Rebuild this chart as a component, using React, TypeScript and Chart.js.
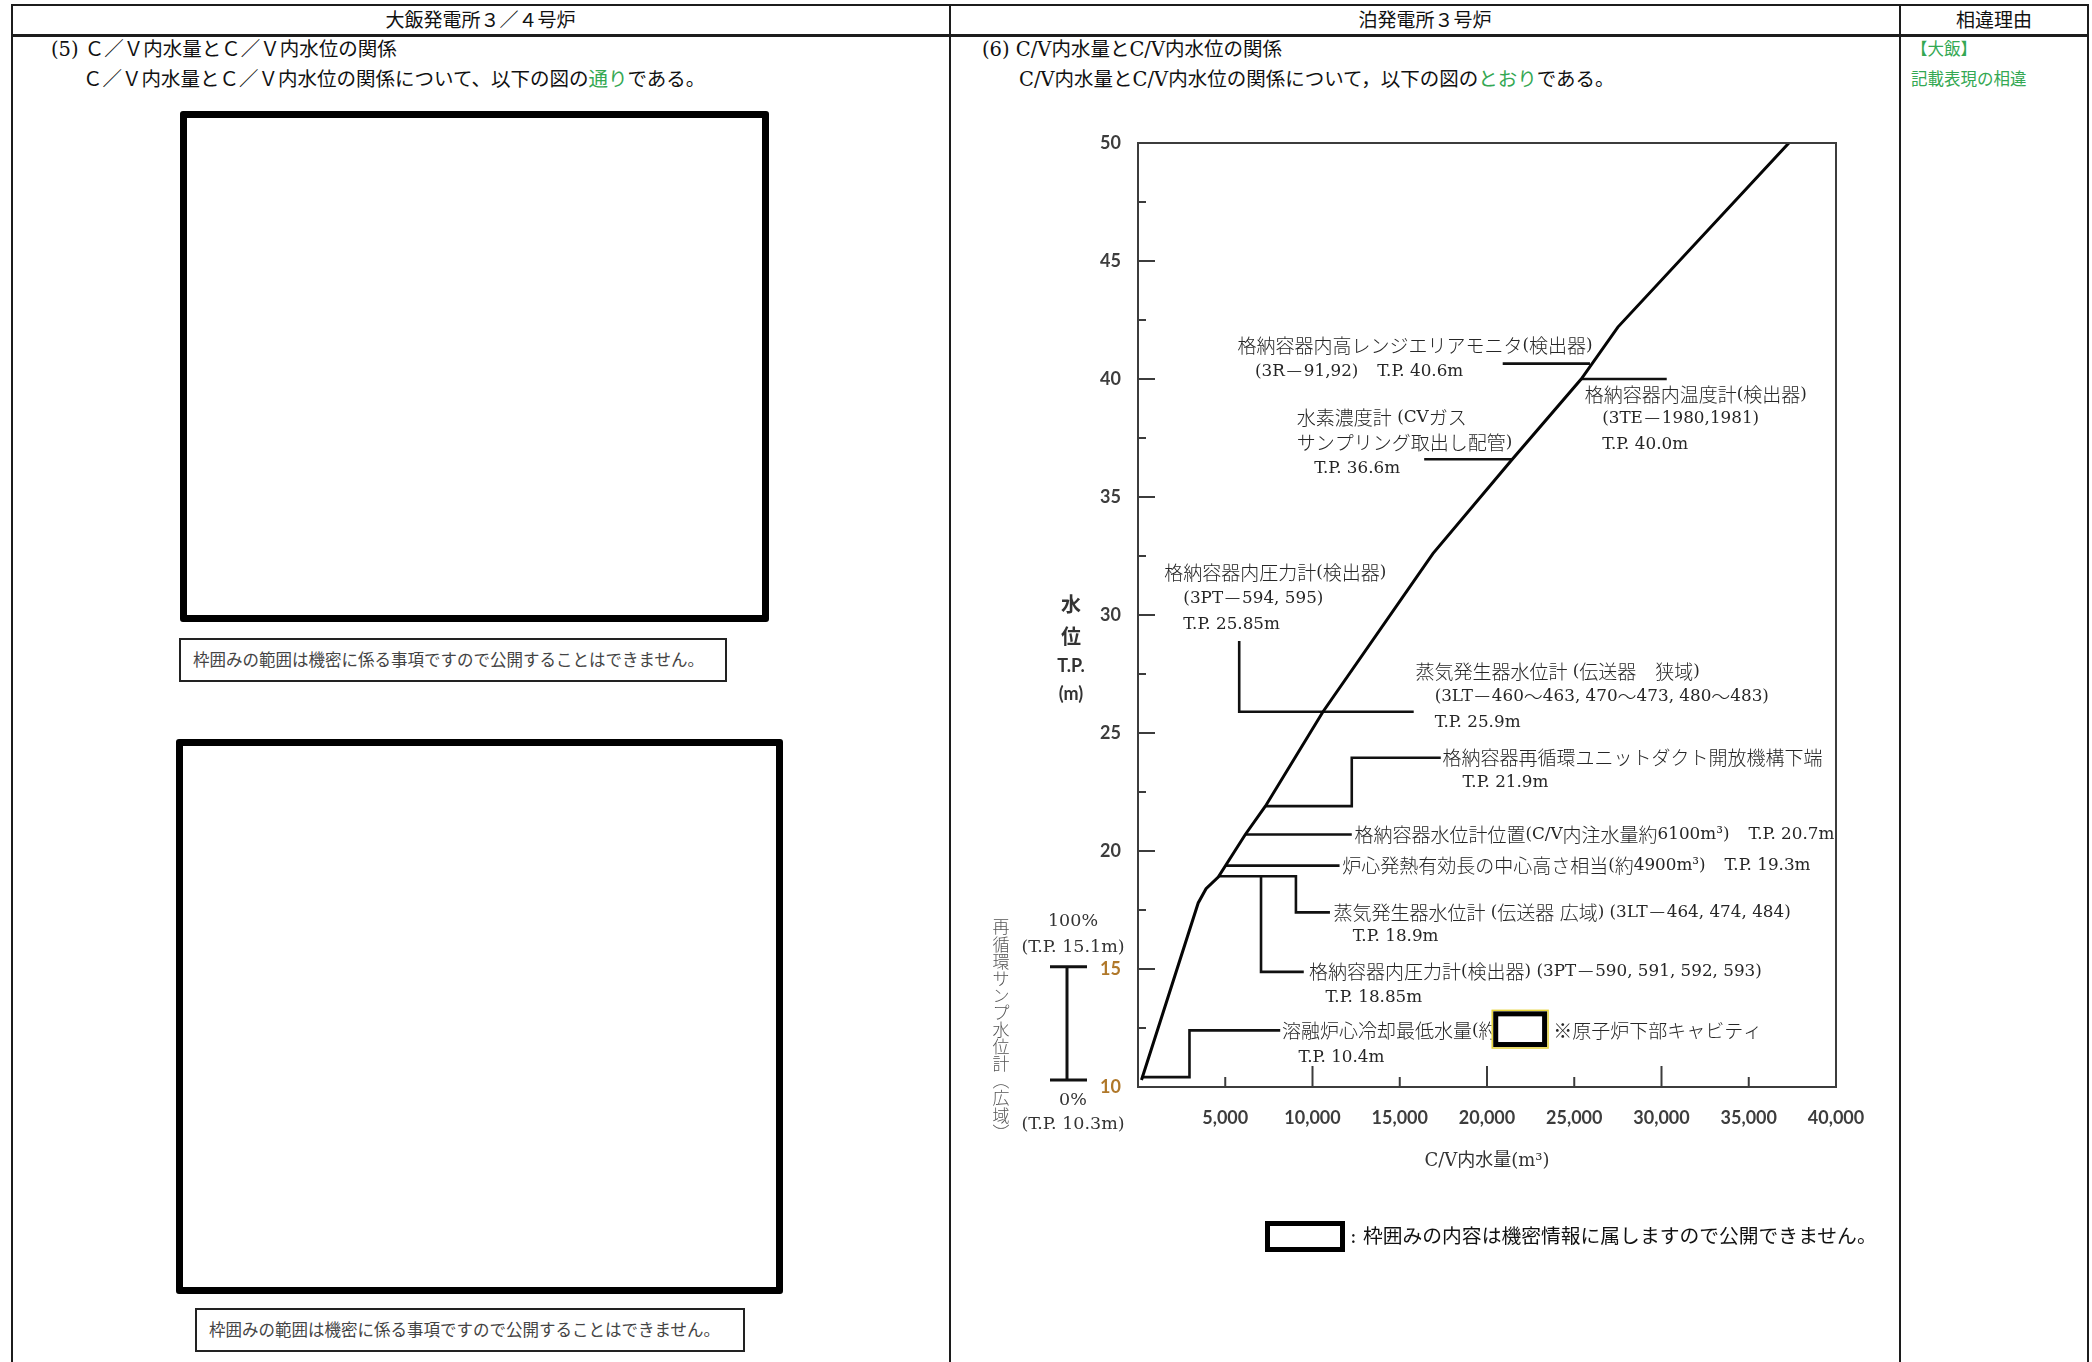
import React, { useEffect, useRef } from 'react';
import { Chart, registerables } from 'chart.js';

Chart.register(...registerables);

// ---------------- data ----------------
// C/V water volume (m3) vs C/V water level T.P. (m)
const curveVolume = [200, 3450, 3900, 4600, 6150, 7300, 10600, 16900, 21450, 25400, 27500, 37300];
const curveLevel = [10.3, 17.8, 18.4, 18.9, 20.7, 21.9, 25.9, 32.6, 36.6, 40.0, 42.2, 50];

const xTickValues = [0, 5000, 10000, 15000, 20000, 25000, 30000, 35000, 40000];
const yTickValues = [10, 15, 20, 25, 30, 35, 40, 45, 50];

// leader lines [volume, level]
const leaderHighRangeMonitor = [[20900, 40.65], [25900, 40.65]];
const leaderTempGauge = [[25400, 40.0], [30300, 40.0]];
const leaderHydrogen = [[16400, 36.6], [21450, 36.6]];
const leaderPressureSGNarrow = [[5800, 28.9], [5800, 25.9], [15800, 25.9]];
const leaderRecircDuct = [[7300, 21.9], [12250, 21.9], [12250, 23.95], [17350, 23.95]];
const leaderLevelGauge = [[6150, 20.7], [12250, 20.7]];
const leaderCoreCenter = [[5000, 19.38], [11550, 19.38]];
const leaderSGWide = [[4600, 18.93], [9050, 18.93], [9050, 17.4], [11000, 17.4]];
const leaderPressureLow = [[7050, 18.93], [7050, 14.88], [9500, 14.88]];
const leaderMinWater = [[200, 10.42], [2950, 10.42], [2950, 12.4], [8150, 12.4]];
const leaderLines = [
  leaderHighRangeMonitor, leaderTempGauge, leaderHydrogen, leaderPressureSGNarrow,
  leaderRecircDuct, leaderLevelGauge, leaderCoreCenter, leaderSGWide, leaderPressureLow, leaderMinWater,
];

// annotation texts, anchored at [volume, level] (left edge, vertical centre)
const noteTexts = [
  '格納容器内高レンジエリアモニタ(検出器)',
  '(3R－91,92)　T.P. 40.6m',
  '格納容器内温度計(検出器)',
  '(3TE－1980,1981)',
  'T.P. 40.0m',
  '水素濃度計 (CVガス',
  'サンプリング取出し配管)',
  'T.P. 36.6m',
  '格納容器内圧力計(検出器)',
  '(3PT－594, 595)',
  'T.P. 25.85m',
  '蒸気発生器水位計 (伝送器　狭域)',
  '(3LT－460～463, 470～473, 480～483)',
  'T.P. 25.9m',
  '格納容器再循環ユニットダクト開放機構下端',
  'T.P. 21.9m',
  '格納容器水位計位置(C/V内注水量約6100m³)　T.P. 20.7m',
  '炉心発熱有効長の中心高さ相当(約4900m³)　T.P. 19.3m',
  '蒸気発生器水位計 (伝送器 広域) (3LT－464, 474, 484)',
  'T.P. 18.9m',
  '格納容器内圧力計(検出器) (3PT－590, 591, 592, 593)',
  'T.P. 18.85m',
  '溶融炉心冷却最低水量(約',
  '※原子炉下部キャビティ',
  'T.P. 10.4m',
];
const noteVolumes = [5700, 6700, 25600, 26600, 26600, 9100, 9100, 10100, 1500, 2600, 2600, 15900, 17000, 17000, 17450, 18600, 12400, 11700, 11200, 12300, 9800, 10750, 8250, 23800, 9200];
const noteLevels = [41.4, 40.3, 39.35, 38.3, 37.2, 38.35, 37.3, 36.2, 31.8, 30.7, 29.6, 27.6, 26.55, 25.45, 23.95, 22.9, 20.7, 19.38, 17.4, 16.35, 14.88, 13.8, 12.4, 12.4, 11.25];

// concealed box inside the chart [volume, level]
const secretBoxVolume = [20500, 23300];
const secretBoxLevel = [13.1, 11.8];

// recirculation sump level gauge (wide range)
const sumpRangeLevel = [15.1, 10.3];
const sumpLabels = ['100%', '(T.P. 15.1m)', '0%', '(T.P. 10.3m)'];
const sumpLabelLevels = [17.03, 15.93, 9.41, 8.42];
const sumpTitle = '再循環サンプ水位計︵広域︶';

const yTitleParts = ['水', '位', 'T.P.', '(m)'];
const yTitleLevels = [30.45, 29.1, 27.85, 26.66];

// ---------------- styles ----------------
const SERIF = '"DejaVu Serif", "Noto Sans CJK JP", serif';
const SANS = 'Lato, "Noto Sans", "Noto Sans CJK JP", sans-serif';
const GREEN = '#34a853';
const CJK_FONT = '300 19px "Noto Sans CJK JP"';
const LATIN_FONT = '16.8px "DejaVu Serif", "Noto Sans CJK JP"';

const CJK_RE = /[\u2E80-\u9FFF\uF900-\uFAFF\uFE30-\uFE4F\uFF00-\uFFEF\u203B\u3000-\u303F]/;

function drawMixed(ctx: CanvasRenderingContext2D, text: string, x: number, y: number) {
  const runs: [string, boolean][] = [];
  let cur = '';
  let curCJK: boolean | null = null;
  for (const ch of Array.from(text)) {
    const c = CJK_RE.test(ch);
    if (curCJK === null || c === curCJK) {
      cur += ch;
      curCJK = c;
    } else {
      runs.push([cur, curCJK]);
      cur = ch;
      curCJK = c;
    }
  }
  if (cur) runs.push([cur, !!curCJK]);
  let cx = x;
  for (const [t, c] of runs) {
    ctx.font = c ? CJK_FONT : LATIN_FONT;
    ctx.fillText(t, cx, y);
    cx += ctx.measureText(t).width;
  }
}

const annotationPlugin = {
  id: 'cvAnnotations',
  afterDraw(chart: any) {
    const { ctx, chartArea: a } = chart;
    const xs = chart.scales.x;
    const ys = chart.scales.y;
    const px = (v: number) => xs.getPixelForValue(v);
    const py = (v: number) => ys.getPixelForValue(v);
    const seg = (x1: number, y1: number, x2: number, y2: number) => {
      ctx.beginPath();
      ctx.moveTo(x1, y1);
      ctx.lineTo(x2, y2);
      ctx.stroke();
    };
    ctx.save();
    // frame
    ctx.strokeStyle = '#3c3c3c';
    ctx.lineWidth = 2;
    ctx.strokeRect(a.left, a.top, a.right - a.left, a.bottom - a.top);
    // inner tick marks
    for (let v = 12.5; v < 50; v += 2.5) {
      const len = v % 5 === 0 ? 17 : 8;
      seg(a.left, py(v), a.left + len, py(v));
    }
    for (const v of xTickValues) {
      if (v === 0 || v === 40000) continue;
      const len = v % 10000 === 0 ? 21 : 10;
      seg(px(v), a.bottom, px(v), a.bottom - len);
    }
    // y title
    ctx.fillStyle = '#333';
    ctx.textAlign = 'center';
    ctx.textBaseline = 'middle';
    yTitleParts.forEach((t, i) => {
      ctx.font = i < 2 ? 'bold 20px "Noto Sans CJK JP"' : `bold 18px ${SANS}`;
      ctx.fillText(t, a.left - 67, py(yTitleLevels[i]));
    });
    // annotations
    ctx.textAlign = 'left';
    ctx.fillStyle = '#262626';
    noteTexts.forEach((t, i) => drawMixed(ctx, t, px(noteVolumes[i]), py(noteLevels[i])));
    // concealed box
    const bx1 = px(secretBoxVolume[0]);
    const bx2 = px(secretBoxVolume[1]);
    const by1 = py(secretBoxLevel[0]);
    const by2 = py(secretBoxLevel[1]);
    ctx.fillStyle = '#fff';
    ctx.fillRect(bx1 - 4, by1 - 4, bx2 - bx1 + 8, by2 - by1 + 8);
    ctx.strokeStyle = '#e6d43a';
    ctx.lineWidth = 1.5;
    ctx.strokeRect(bx1 - 3.5, by1 - 3.5, bx2 - bx1 + 7, by2 - by1 + 7);
    ctx.strokeStyle = '#000';
    ctx.lineWidth = 5;
    ctx.strokeRect(bx1, by1, bx2 - bx1, by2 - by1);
    // sump gauge
    const gx = a.left - 71;
    ctx.strokeStyle = '#111';
    ctx.lineWidth = 3;
    seg(gx, py(sumpRangeLevel[0]), gx, py(sumpRangeLevel[1]));
    seg(gx - 17, py(sumpRangeLevel[0]), gx + 20, py(sumpRangeLevel[0]));
    seg(gx - 17, py(sumpRangeLevel[1]), gx + 20, py(sumpRangeLevel[1]));
    ctx.fillStyle = '#333';
    ctx.textAlign = 'center';
    ctx.font = `17.5px ${SERIF}`;
    sumpLabels.forEach((t, i) => ctx.fillText(t, a.left - 65, py(sumpLabelLevels[i])));
    ctx.fillStyle = '#555';
    ctx.font = '300 17px "Noto Sans CJK JP"';
    const chars = Array.from(sumpTitle);
    const y0 = py(16.78);
    chars.forEach((c, i) => ctx.fillText(c, a.left - 137, y0 + i * 17.1));
    ctx.restore();
  },
};

const tickFont = { family: SANS, size: 18, weight: 'bold' as const };

function buildConfig(): any {
  const datasets: any[] = [
    {
      label: 'C/V内水量とC/V内水位',
      data: curveVolume.map((v, i) => ({ x: v, y: curveLevel[i] })),
      showLine: true,
      borderColor: '#050505',
      borderWidth: 3,
      pointRadius: 0,
      fill: false,
    },
    ...leaderLines.map((pts, i) => ({
      label: `leader${i}`,
      data: pts.map(([x, y]) => ({ x, y })),
      showLine: true,
      borderColor: '#111',
      borderWidth: 2.6,
      pointRadius: 0,
      fill: false,
    })),
  ];
  return {
    type: 'scatter',
    data: { datasets },
    plugins: [annotationPlugin],
    options: {
      responsive: false,
      animation: false,
      devicePixelRatio: 1,
      layout: { padding: { left: 0, top: 33, right: 59, bottom: 113 } },
      plugins: { legend: { display: false }, tooltip: { enabled: false }, title: { display: false } },
      scales: {
        x: {
          type: 'linear',
          min: 0,
          max: 40000,
          afterBuildTicks: (s: any) => { s.ticks = xTickValues.map((v) => ({ value: v })); },
          ticks: {
            font: tickFont,
            color: '#3d3d3d',
            padding: 20,
            maxRotation: 0,
            autoSkip: false,
            callback: (v: any) => (Number(v) === 0 ? '' : Number(v).toLocaleString('en-US')),
          },
          grid: { display: false, drawTicks: false, tickLength: 0 },
          border: { display: false },
          title: {
            display: true,
            text: 'C/V内水量(m³)',
            color: '#333',
            font: { family: SERIF, size: 18 },
            padding: { top: 0, bottom: 5 },
          },
          afterFit: (s: any) => { s.height = 90; },
        },
        y: {
          type: 'linear',
          min: 10,
          max: 50,
          afterBuildTicks: (s: any) => { s.ticks = yTickValues.map((v) => ({ value: v })); },
          ticks: {
            font: tickFont,
            color: (c: any) => (c.tick && c.tick.value <= 15 ? '#b0782a' : '#3d3d3d'),
            padding: 17,
            autoSkip: false,
          },
          grid: { display: false, drawTicks: false, tickLength: 0 },
          border: { display: false },
          afterFit: (s: any) => { s.width = 178; },
        },
      },
    },
  };
}

function T(props: { x: number; y: number; size: number; color?: string; children: any; w?: number; center?: boolean; family?: string }) {
  const h = Math.round(props.size * 1.4);
  return (
    <div
      style={{
        position: 'absolute',
        left: props.x,
        top: props.y - h / 2,
        width: props.w,
        height: h,
        lineHeight: `${h}px`,
        fontSize: props.size,
        color: props.color || '#111',
        fontFamily: props.family || SERIF,
        whiteSpace: 'nowrap',
        textAlign: props.center ? 'center' : 'left',
      }}
    >
      {props.children}
    </div>
  );
}

const line = (x: number, y: number, w: number, h: number, key: string) => (
  <div key={key} style={{ position: 'absolute', left: x, top: y, width: w, height: h, background: '#1c1c1c' }} />
);

export default function App() {
  const canvasRef = useRef<HTMLCanvasElement | null>(null);
  useEffect(() => {
    const canvas = canvasRef.current;
    if (!canvas) return;
    const chart = new Chart(canvas, buildConfig());
    return () => chart.destroy();
  }, []);

  return (
    <div style={{ position: 'absolute', left: 0, top: 0, width: 2092, height: 1362, overflow: 'hidden', background: '#fff' }}>
      {line(11, 4, 2078, 2, 'top')}
      {line(11, 34, 2078, 3, 'hdr')}
      {line(11, 4, 2, 1358, 'v0')}
      {line(949, 4, 2, 1358, 'v1')}
      {line(1899, 4, 2, 1358, 'v2')}
      {line(2087, 4, 2, 1358, 'v3')}

      <T x={11} y={20} w={939} size={19} center>大飯発電所３／４号炉</T>
      <T x={950} y={20} w={950} size={19} center>泊発電所３号炉</T>
      <T x={1900} y={20} w={188} size={19} center>相違理由</T>

      <T x={51} y={49} size={19.5}>(5) Ｃ／Ｖ内水量とＣ／Ｖ内水位の関係</T>
      <T x={83} y={79} size={19.5}>
        Ｃ／Ｖ内水量とＣ／Ｖ内水位の関係について、以下の図の<span style={{ color: GREEN }}>通り</span>である。
      </T>

      <T x={982} y={49} size={19.5}>(6) C/V内水量とC/V内水位の関係</T>
      <T x={1019} y={79} size={19.5}>
        C/V内水量とC/V内水位の関係について，以下の図の<span style={{ color: GREEN }}>とおり</span>である。
      </T>

      <T x={1911} y={49} size={16.5} color={GREEN}>【大飯】</T>
      <T x={1911} y={79} size={16.5} color={GREEN}>記載表現の相違</T>

      <div style={{ position: 'absolute', left: 180, top: 111, width: 589, height: 511, border: '7px solid #000', boxSizing: 'border-box', borderRadius: 3 }} />
      <div style={{ position: 'absolute', left: 179, top: 638, width: 548, height: 44, border: '2px solid #222', boxSizing: 'border-box' }} />
      <T x={193} y={660} size={16.5} color="#444">枠囲みの範囲は機密に係る事項ですので公開することはできません。</T>

      <div style={{ position: 'absolute', left: 176, top: 739, width: 607, height: 555, border: '7px solid #000', boxSizing: 'border-box', borderRadius: 3 }} />
      <div style={{ position: 'absolute', left: 195, top: 1308, width: 550, height: 44, border: '2px solid #222', boxSizing: 'border-box' }} />
      <T x={209} y={1330} size={16.5} color="#444">枠囲みの範囲は機密に係る事項ですので公開することはできません。</T>

      <canvas
        ref={canvasRef}
        width={935}
        height={1180}
        style={{ position: 'absolute', left: 960, top: 110, width: 935, height: 1180 }}
      />

      <div style={{ position: 'absolute', left: 1265, top: 1221, width: 80, height: 31, border: '5px solid #000', boxSizing: 'border-box' }} />
      <T x={1350} y={1237} size={19.8} color="#111">: 枠囲みの内容は機密情報に属しますので公開できません。</T>
    </div>
  );
}
